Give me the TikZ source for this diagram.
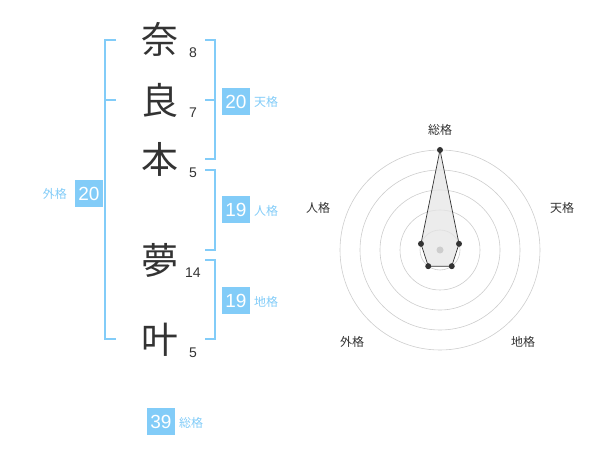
\documentclass[tikz,border=0pt]{standalone}
\usepackage{fontspec}
\setmainfont{Liberation Sans}
\newfontfamily\jp{Noto Sans CJK JP}
\definecolor{kblue}{RGB}{130,204,248}
\definecolor{kdark}{RGB}{51,51,51}
\definecolor{kgrid}{RGB}{205,205,205}
\begin{document}
\begin{tikzpicture}[x=1pt,y=-1pt,
  kanji/.style={font=\jp\fontsize{37}{37}\selectfont, text=kdark, inner sep=0pt, text height=30pt, text depth=3pt},
  snum/.style={font=\fontsize{14}{14}\selectfont, text=kdark, inner sep=0pt, text height=10pt, text depth=0pt},
  sbox/.style={fill=kblue, text=white, minimum width=28pt, minimum height=27pt, inner sep=0pt, font=\fontsize{19}{19}\selectfont},
  slabel/.style={font=\jp\fontsize{12}{12}\selectfont, text=kblue, inner sep=0pt},
  rlabel/.style={font=\jp\fontsize{12}{12}\selectfont, text=kdark, inner sep=0pt},
  br/.style={draw=kblue, line width=1.3pt},
  grid/.style={draw=kgrid, line width=0.6pt},
  pt/.style={circle, fill=kdark, inner sep=0pt, minimum size=6pt}
]
\useasboundingbox (0,0) rectangle (600,470);

% characters
\node[kanji] (c1) at (160,40) {奈};
\node[kanji] (c2) at (160,101) {良};
\node[kanji] (c3) at (160,160) {本};
\node[kanji] (c4) at (160,261) {夢};
\node[kanji] (c5) at (160,340) {叶};

% stroke counts
\node[snum] (n1) at (193,53) {8};
\node[snum] (n2) at (193,113) {7};
\node[snum] (n3) at (193,173) {5};
\node[snum] (n4) at (193,273) {14};
\node[snum] (n5) at (193,353) {5};

% brackets
\draw[br] (116,40) -- (105,40) -- (105,339) -- (116,339);
\draw[br] (105,100) -- (116,100);
\draw[br] (205,40) -- (215,40) -- (215,159) -- (205,159);
\draw[br] (205,100) -- (215,100);
\draw[br] (205,170) -- (215,170) -- (215,250) -- (205,250);
\draw[br] (205,260) -- (215,260) -- (215,339) -- (205,339);

% boxes and labels
\node[sbox] (ten) at (236,101.5) {20};
\node[slabel, anchor=west] (tenl) at (254,102) {天格};
\node[sbox] (jin) at (236,210) {19};
\node[slabel, anchor=west] (jinl) at (254,211) {人格};
\node[sbox] (chi) at (236,300.5) {19};
\node[slabel, anchor=west] (chil) at (254,302) {地格};
\node[sbox] (gai) at (89,194) {20};
\node[slabel, anchor=east] (gail) at (67,194) {外格};
\node[sbox] (sou) at (161,421.5) {39};
\node[slabel, anchor=west] (soul) at (179,423) {総格};

% radar
\coordinate (ctr) at (440,250);
\foreach \r in {20,40,60,80,100} \draw[grid] (ctr) circle[radius=\r];
\coordinate (p1) at (440,150);
\coordinate (p2) at (459.02,243.82);
\coordinate (p3) at (451.76,266.18);
\coordinate (p4) at (428.24,266.18);
\coordinate (p5) at (420.98,243.82);
\draw[fill=black!10, fill opacity=0.75, draw=kdark, line width=0.7pt] (p1) -- (p2) -- (p3) -- (p4) -- (p5) -- cycle;
\fill[kgrid] (ctr) circle[radius=3.5];
\foreach \p in {p1,p2,p3,p4,p5} \node[pt] at (\p) {};

\node[rlabel] (r1) at (440,130) {総格};
\node[rlabel] (r2) at (562,208) {天格};
\node[rlabel] (r3) at (523,342) {地格};
\node[rlabel] (r4) at (352,342) {外格};
\node[rlabel] (r5) at (318,208) {人格};
\end{tikzpicture}
\end{document}
